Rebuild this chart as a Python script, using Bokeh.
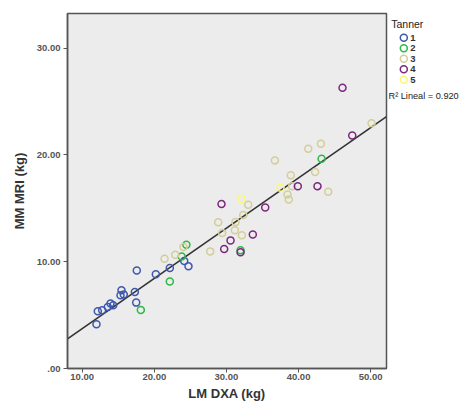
import numpy as np
from bokeh.plotting import figure
from bokeh.layouts import row
from bokeh.core.properties import value
from bokeh.models import ColumnDataSource, Label, FixedTicker, Range1d
from bokeh.embed import file_html
from bokeh.resources import INLINE

# ---- data ----
t1_x = [11.98, 12.16, 12.77, 13.55, 13.93, 14.30, 15.45, 15.31, 15.77, 17.30, 17.49, 17.57, 20.21, 22.15, 24.15, 24.74]
t1_y = [4.14, 5.36, 5.45, 5.76, 6.08, 5.92, 7.33, 6.86, 6.92, 7.17, 6.17, 9.19, 8.82, 9.41, 10.07, 9.57]
t2_x = [18.13, 22.15, 23.80, 24.45, 31.96, 43.20]
t2_y = [5.48, 8.14, 10.50, 11.60, 11.07, 19.64]
t3_x = [21.42, 22.90, 24.05, 27.75, 28.86, 29.42, 31.17, 31.26, 32.14, 32.33, 33.02, 36.72, 38.47, 38.65, 38.93, 39.10, 41.35, 42.30, 43.10, 44.12, 50.13]
t3_y = [10.29, 10.66, 11.38, 10.97, 13.69, 12.68, 12.94, 13.71, 12.47, 14.37, 15.34, 19.49, 16.30, 15.84, 18.11, 17.08, 20.58, 18.40, 21.05, 16.56, 22.98]
t4_x = [29.32, 30.57, 29.69, 31.96, 33.66, 35.38, 39.90, 42.63, 46.10, 47.45]
t4_y = [15.40, 12.00, 11.19, 10.88, 12.56, 15.09, 17.08, 17.08, 26.29, 21.83]
t5_x = [32.10, 37.50]
t5_y = [15.90, 16.93]

groups = ["1", "2", "3", "4", "5"]
colors = ["#3E58AC", "#2EB848", "#D3CE97", "#7C287D", "#FBF873"]

x_ticks = [10, 20, 30, 40, 50]
x_tick_labels = ["10.00", "20.00", "30.00", "40.00", "50.00"]
y_ticks = [0, 10, 20, 30]
y_tick_labels = [".00", "10.00", "20.00", "30.00"]

x_lim = [7.96, 52.2]
y_lim = [0.0, 33.25]
legend_title = "Tanner"
r2_text = "R\u00b2 Lineal = 0.920"

FONT = "Liberation Sans"
H = 404
TOP, FH, FW = 13, 355, 319

# ---- main figure ----
p = figure(frame_width=FW, frame_height=FH, output_backend="svg", toolbar_location=None,
           x_range=Range1d(*x_lim), y_range=Range1d(*y_lim),
           min_border_left=67, min_border_right=2, min_border_top=TOP, min_border_bottom=H - TOP - FH)
p.background_fill_color = "#ECECEC"
p.border_fill_color = "white"
p.outline_line_color = "#555555"
p.outline_line_width = 1.5
p.xgrid.visible = False
p.ygrid.visible = False

for ax, ticks, labels in ((p.xaxis[0], x_ticks, x_tick_labels), (p.yaxis[0], y_ticks, y_tick_labels)):
    ax.ticker = FixedTicker(ticks=ticks)
    ax.major_label_overrides = {t: l for t, l in zip(ticks, labels)}
    ax.minor_tick_line_color = None
    ax.major_tick_in = 0
    ax.major_tick_out = 4
    ax.major_tick_line_color = "#555555"
    ax.axis_line_color = "#555555"
    ax.axis_line_width = 1.5
    ax.major_label_text_font = FONT
    ax.major_label_text_font_size = "9.5px"
    ax.major_label_text_font_style = "bold"
    ax.major_label_text_color = "#555555"
    ax.axis_label_text_font = FONT
    ax.axis_label_text_font_size = "13px"
    ax.axis_label_text_font_style = "bold"
    ax.axis_label_text_color = "#333333"

p.xaxis.axis_label = "LM DXA (kg)"
p.yaxis.axis_label = "MM MRI (kg)"
p.xaxis.major_label_standoff = 1
p.xaxis.axis_label_standoff = 3
p.yaxis.major_label_standoff = 3
p.yaxis.axis_label_standoff = 7

# regression line fitted from all points
all_x = np.array(t1_x + t2_x + t3_x + t4_x + t5_x)
all_y = np.array(t1_y + t2_y + t3_y + t4_y + t5_y)
slope, intercept = np.polyfit(all_x, all_y, 1)
lx = np.array(x_lim)
p.line(lx, slope * lx + intercept, line_color="#333333", line_width=1.6)

series_x = [t1_x, t2_x, t3_x, t4_x, t5_x]
series_y = [t1_y, t2_y, t3_y, t4_y, t5_y]
for c, xs, ys in zip(colors, series_x, series_y):
    src = ColumnDataSource(dict(x=xs, y=ys))
    p.scatter("x", "y", source=src, marker="circle", size=7, fill_color=None,
              line_color=c, line_width=1.5)

# ---- side panel with legend (pixel coordinates of the page, y from top) ----
SW = 73
side = figure(width=SW, height=H, output_backend="svg", toolbar_location=None,
              x_range=Range1d(0, SW), y_range=Range1d(TOP + FH, TOP),
              x_axis_location=None, y_axis_location=None,
              min_border=0, min_border_left=0, min_border_right=0,
              min_border_top=0, min_border_bottom=0)
side.outline_line_color = None
side.xgrid.visible = False
side.ygrid.visible = False
side.background_fill_color = "white"

key_x, first_key_y, key_step = 15.3, 37.3, 10.5
key_ys = [first_key_y + i * key_step for i in range(len(groups))]
leg = ColumnDataSource(dict(x=[key_x] * len(groups), y=key_ys, color=colors, label=groups))
side.scatter("x", "y", source=leg, marker="circle", size=7, fill_color=None,
             line_color="color", line_width=1.5)
side.text(x=key_x + 6.5, y="y", text="label", source=leg, text_font=value(FONT),
          text_font_size="9.5px", text_font_style="bold", text_color="#333333",
          text_baseline="middle")

side.add_layout(Label(x=2.7, y=23.3, text=legend_title, text_font=FONT,
                      text_font_size="10.5px", text_color="#222222", text_baseline="middle"))
side.add_layout(Label(x=0, y=95, text=r2_text, text_font=FONT,
                      text_font_size="9.2px", text_color="#222222", text_baseline="middle"))

open("out.html", "w").write(file_html(row(p, side), INLINE))
